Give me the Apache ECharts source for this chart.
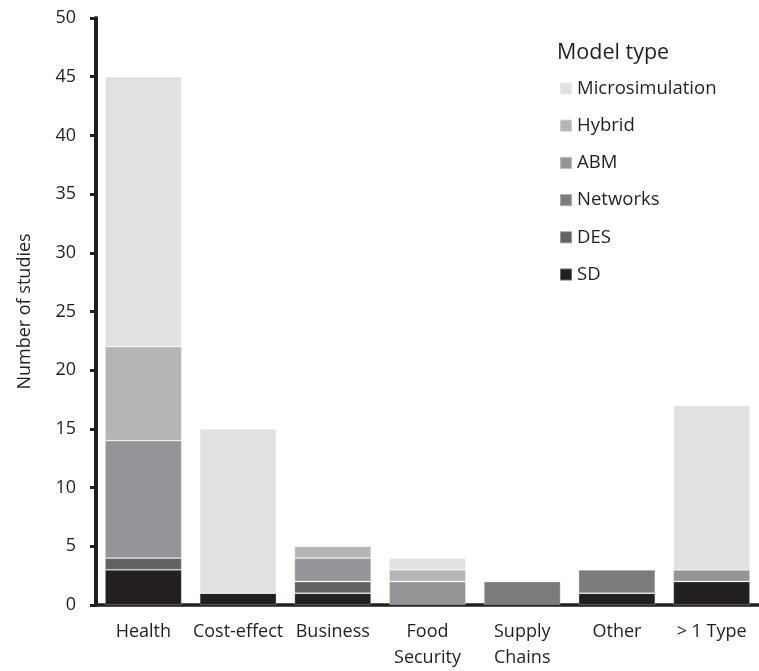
<!DOCTYPE html>
<html>
<head>
<meta charset="utf-8">
<script src="https://cdn.jsdelivr.net/npm/echarts@6/dist/echarts.min.js"></script>
<style>
html,body{margin:0;padding:0;background:#fff;}
#chart{width:759px;height:671px;}
</style>
</head>
<body>
<div id="chart"></div>
<script>
const categories = ['Health', 'Cost-effect', 'Business', 'Food\nSecurity', 'Supply\nChains', 'Other', '> 1 Type'];
const SD = [3, 1, 1, 0, 0, 1, 2];
const DES = [1, 0, 1, 0, 0, 0, 0];
const Networks = [0, 0, 0, 0, 2, 2, 0];
const ABM = [10, 0, 2, 2, 0, 0, 1];
const Hybrid = [8, 0, 1, 1, 0, 0, 0];
const Microsimulation = [23, 14, 0, 1, 0, 0, 14];
const yTicks = [0, 5, 10, 15, 20, 25, 30, 35, 40, 45, 50];
const legendOrder = ['Microsimulation', 'Hybrid', 'ABM', 'Networks', 'DES', 'SD'];

const FONT = 'Open Sans';
const TXT = '#231f20';
const seriesDefs = [
  ['SD', SD, '#231f20'],
  ['DES', DES, '#636365'],
  ['Networks', Networks, '#7b7c7e'],
  ['ABM', ABM, '#939598'],
  ['Hybrid', Hybrid, '#b4b5b7'],
  ['Microsimulation', Microsimulation, '#e0e1e3']
];

const chart = echarts.init(document.getElementById('chart'), null, {renderer: 'canvas'});
chart.setOption({
  animation: false,
  backgroundColor: '#fff',
  textStyle: {fontFamily: FONT, color: TXT},
  title: {
    text: 'Model type', left: 557, top: 40, padding: 0,
    textStyle: {fontFamily: FONT, fontSize: 21.5, fontWeight: 'normal', color: TXT, lineHeight: 26}
  },
  legend: {
    data: legendOrder, orient: 'vertical', left: 559, top: 79, padding: 0,
    itemWidth: 12, itemHeight: 12, itemGap: 18.2, icon: 'rect',
    textStyle: {fontFamily: FONT, fontSize: 18.5, color: TXT, lineHeight: 18}
  },
  grid: {left: 96, top: 18, bottom: 65, width: 672, containLabel: false},
  xAxis: {
    type: 'category', data: categories,
    axisLine: {lineStyle: {color: TXT, width: 3.5}},
    axisTick: {alignWithLabel: true, length: 4, lineStyle: {color: TXT, width: 3}},
    axisLabel: {fontFamily: FONT, fontSize: 18, color: TXT, margin: 14, lineHeight: 26, interval: 0}
  },
  yAxis: {
    type: 'value', min: yTicks[0], max: yTicks[yTicks.length - 1], interval: yTicks[1] - yTicks[0],
    name: 'Number of studies', nameLocation: 'middle', nameGap: 62,
    nameTextStyle: {fontFamily: FONT, fontSize: 18, color: TXT},
    axisLine: {show: true, lineStyle: {color: TXT, width: 4}},
    axisTick: {show: true, length: 6, lineStyle: {color: TXT, width: 3}},
    axisLabel: {fontFamily: FONT, fontSize: 18, color: TXT, margin: 20},
    splitLine: {show: false}
  },
  series: seriesDefs.map(([name, data, color]) => ({
    name, type: 'bar', stack: 'total',
    data: data.map(v => v === 0 ? '-' : v),
    barCategoryGap: '19%',
    itemStyle: {color, borderColor: 'rgba(255,255,255,0.35)', borderWidth: 0.8}
  }))
});
</script>
</body>
</html>
